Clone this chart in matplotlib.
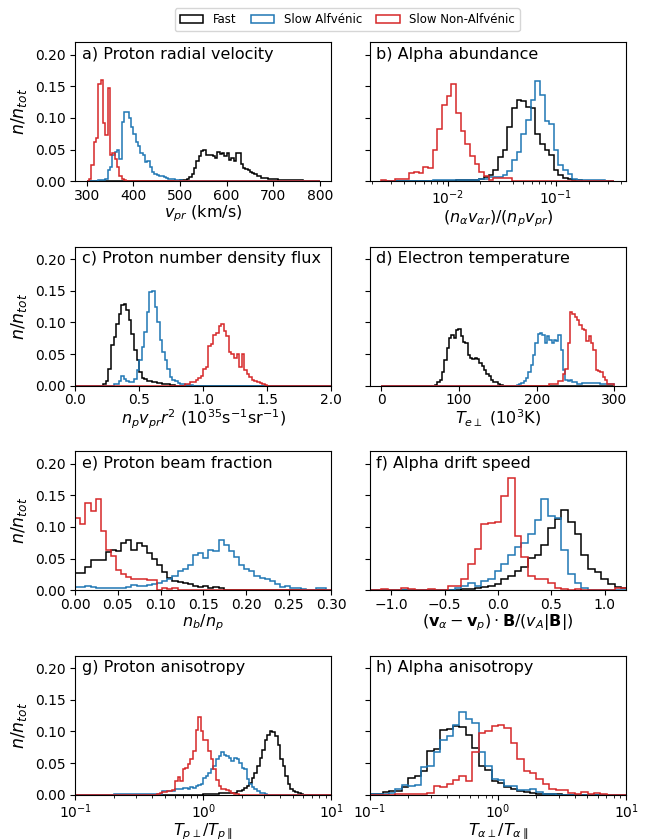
import numpy as np
import matplotlib.pyplot as plt
from matplotlib.patches import Patch

labels = ["Fast", "Slow Alfvénic", "Slow Non-Alfvénic"]
colors = ["black", "tab:blue", "tab:red"]

# a) proton radial velocity, 5 km/s bins from 300 to 800
a_edges = np.linspace(300, 800, 101)
a_fast_i0 = 40
a_fast = [0.001, 0.001, 0.002, 0.003, 0.006, 0.012, 0.020, 0.032, 0.040, 0.048,
          0.049, 0.041, 0.042, 0.041, 0.040, 0.037, 0.046, 0.043, 0.045, 0.040,
          0.044, 0.033, 0.036, 0.032, 0.044, 0.045, 0.027, 0.021, 0.019, 0.017,
          0.015, 0.013, 0.011, 0.0085, 0.0075, 0.0055, 0.005, 0.0045, 0.004, 0.0035,
          0.003, 0.003, 0.0025, 0.0025, 0.002, 0.002, 0.0018, 0.0015, 0.0015, 0.0012,
          0.001, 0.001, 0.001, 0.0008, 0.0008, 0.0007, 0.0006, 0.0005, 0.0005, 0.0004]
a_alf_i0 = 5
a_alf = [0.001, 0.002, 0.002, 0.004, 0.017, 0.022, 0.042, 0.046, 0.050, 0.035,
         0.093, 0.110, 0.110, 0.100, 0.085, 0.075, 0.062, 0.055, 0.045, 0.042,
         0.030, 0.032, 0.022, 0.015, 0.012, 0.010, 0.008, 0.008, 0.007, 0.005,
         0.004, 0.004, 0.003, 0.002, 0.002, 0.001]
a_non_i0 = 1
a_non = [0.004, 0.025, 0.062, 0.068, 0.153, 0.160, 0.092, 0.073, 0.148, 0.041,
         0.045, 0.035, 0.022, 0.008, 0.003, 0.001]

# b) alpha abundance, log bins
b_edges = np.logspace(-2.61, -0.46, 51)
b_fast_i0 = 16
b_fast = [0.001, 0.001, 0.001, 0.002, 0.002, 0.004, 0.006, 0.009, 0.017, 0.038,
          0.050, 0.085, 0.115, 0.129, 0.127, 0.118, 0.116, 0.075, 0.058, 0.050,
          0.041, 0.017, 0.009, 0.005, 0.004, 0.002, 0.001]
b_alf_i0 = 11
b_alf = [0.001, 0.001, 0.001, 0.001, 0.001, 0.001, 0.002, 0.002, 0.002, 0.002,
         0.004, 0.004, 0.007, 0.007, 0.007, 0.009, 0.016, 0.033, 0.046, 0.075,
         0.097, 0.128, 0.158, 0.136, 0.095, 0.090, 0.049, 0.025, 0.018, 0.012,
         0.004, 0.002, 0.002, 0.002, 0.001, 0.001, 0.001]
b_non_i0 = 0
b_non = [0.002, 0.0, 0.0, 0.004, 0.004, 0.004, 0.013, 0.015, 0.013, 0.023,
         0.021, 0.050, 0.082, 0.120, 0.135, 0.153, 0.107, 0.079, 0.058, 0.040,
         0.027, 0.014, 0.008, 0.001, 0.005, 0.005, 0.005, 0.005]

# c) proton number density flux
c_edges = np.linspace(0, 2, 101)
c_fast_i0 = 11
c_fast = [0.002, 0.008, 0.027, 0.064, 0.077, 0.098, 0.114, 0.127, 0.129, 0.120,
          0.103, 0.082, 0.056, 0.040, 0.022, 0.012, 0.010, 0.008, 0.007, 0.006,
          0.005, 0.004, 0.004, 0.003, 0.002, 0.002, 0.001, 0.001]
c_alf_i0 = 15
c_alf = [0.002, 0.003, 0.008, 0.016, 0.010, 0.008, 0.006, 0.006, 0.011, 0.024,
         0.040, 0.061, 0.085, 0.116, 0.148, 0.150, 0.125, 0.100, 0.072, 0.053,
         0.040, 0.027, 0.014, 0.009, 0.007, 0.004, 0.002, 0.002, 0.001, 0.001, 0.001]
c_non_i0 = 43
c_non = [0.002, 0.003, 0.006, 0.006, 0.009, 0.012, 0.016, 0.027, 0.030, 0.062,
         0.066, 0.080, 0.083, 0.095, 0.098, 0.087, 0.078, 0.053, 0.050, 0.043,
         0.050, 0.030, 0.050, 0.025, 0.019, 0.014, 0.009, 0.008, 0.006, 0.004,
         0.002, 0.001]

# d) electron temperature, 3e3 K bins
d_edges = np.linspace(0, 300, 101)
d_fast_i0 = 23
d_fast = [0.001, 0.006, 0.009, 0.022, 0.040, 0.059, 0.076, 0.080, 0.076, 0.088,
          0.090, 0.079, 0.069, 0.067, 0.048, 0.043, 0.042, 0.043, 0.042, 0.035,
          0.031, 0.024, 0.019, 0.015, 0.009, 0.006, 0.005, 0.003, 0.001]
d_alf_i0 = 58
d_alf = [0.001, 0.002, 0.004, 0.007, 0.012, 0.021, 0.033, 0.048, 0.067, 0.082,
         0.084, 0.080, 0.067, 0.078, 0.072, 0.068, 0.072, 0.070, 0.080, 0.056,
         0.024, 0.009, 0.007, 0.009, 0.006, 0.005, 0.003, 0.003, 0.004, 0.004,
         0.004, 0.004, 0.004, 0.004, 0.004, 0.004, 0.002, 0.002, 0.002, 0.002,
         0.002, 0.002]
d_non_i0 = 72
d_non = [0.002, 0.002, 0.003, 0.003, 0.008, 0.007, 0.018, 0.026, 0.068, 0.116,
         0.114, 0.108, 0.104, 0.096, 0.089, 0.088, 0.070, 0.078, 0.067, 0.056,
         0.025, 0.023, 0.021, 0.014, 0.009, 0.003, 0.002, 0.002]

# e) proton beam fraction
e_edges = np.linspace(0, 0.3, 51)
e_fast_i0 = 0
e_fast = [0.027, 0.027, 0.037, 0.047, 0.048, 0.047, 0.060, 0.064, 0.062, 0.075,
          0.080, 0.063, 0.075, 0.070, 0.058, 0.049, 0.040, 0.028, 0.019, 0.015,
          0.013, 0.011, 0.009, 0.007, 0.005, 0.006, 0.004, 0.005, 0.003, 0.001]
e_alf_i0 = 0
e_alf = [0.005, 0.005, 0.007, 0.005, 0.004, 0.003, 0.003, 0.004, 0.004, 0.004,
         0.005, 0.008, 0.007, 0.006, 0.008, 0.010, 0.011, 0.014, 0.018, 0.022,
         0.030, 0.034, 0.039, 0.056, 0.058, 0.051, 0.063, 0.062, 0.079, 0.072,
         0.062, 0.053, 0.039, 0.034, 0.030, 0.022, 0.019, 0.017, 0.014, 0.009,
         0.005, 0.007, 0.004, 0.004, 0.002, 0.001, 0.001, 0.003, 0.003, 0.001]
e_non_i0 = 0
e_non = [0.114, 0.104, 0.137, 0.125, 0.144, 0.093, 0.064, 0.054, 0.032, 0.025,
         0.021, 0.018, 0.017, 0.017, 0.016, 0.016, 0.001, 0.004, 0.002, 0.004,
         0.001, 0.001]

# f) alpha drift speed
f_edges = np.linspace(-1.21875, 1.21875, 40)
f_fast_i0 = 13
f_fast = [0.001, 0.002, 0.002, 0.004, 0.005, 0.007, 0.009, 0.017, 0.023, 0.030,
          0.037, 0.051, 0.056, 0.071, 0.098, 0.113, 0.126, 0.107, 0.089, 0.055,
          0.034, 0.028, 0.018, 0.009, 0.005, 0.004]
f_alf_i0 = 11
f_alf = [0.001, 0.001, 0.003, 0.006, 0.012, 0.007, 0.015, 0.017, 0.030, 0.042,
         0.056, 0.068, 0.074, 0.088, 0.111, 0.144, 0.118, 0.114, 0.064, 0.026,
         0.012, 0.003, 0.001]
f_non_i0 = 0
f_non = [0.0, 0.0, 0.002, 0.001, 0.0, 0.004, 0.002, 0.0, 0.0, 0.002,
         0.001, 0.001, 0.007, 0.007, 0.017, 0.042, 0.065, 0.104, 0.106, 0.107,
         0.149, 0.177, 0.085, 0.053, 0.023, 0.017, 0.018, 0.012, 0.004, 0.002,
         0.001, 0.002, 0.001, 0.0, 0.001, 0.001, 0.001, 0.003, 0.003]

# g) proton anisotropy, log bins 0.1..10
g_edges = np.logspace(-1, 1, 101)
g_fast_i0 = 50
g_fast = [0.001, 0.001, 0.001, 0.001, 0.0015, 0.0015, 0.002, 0.002, 0.002, 0.002,
          0.002, 0.003, 0.003, 0.005, 0.006, 0.008, 0.011, 0.013, 0.019, 0.026,
          0.035, 0.046, 0.058, 0.071, 0.087, 0.095, 0.101, 0.099, 0.093, 0.079,
          0.056, 0.045, 0.030, 0.017, 0.009, 0.006, 0.004, 0.002, 0.001]
g_alf_i0 = 15
g_alf = [0.001, 0.001, 0.001, 0.001, 0.001, 0.001, 0.001, 0.001, 0.001, 0.001,
         0.001, 0.001, 0.001, 0.001, 0.001, 0.0015, 0.0015, 0.0015, 0.0015, 0.005,
         0.006, 0.006, 0.006, 0.006, 0.009, 0.009, 0.009, 0.011, 0.011, 0.009,
         0.012, 0.011, 0.013, 0.016, 0.017, 0.026, 0.030, 0.035, 0.040, 0.045,
         0.056, 0.061, 0.067, 0.063, 0.061, 0.058, 0.053, 0.058, 0.056, 0.050,
         0.042, 0.040, 0.024, 0.017, 0.012, 0.009, 0.005, 0.003, 0.002, 0.001]
g_non_i0 = 32
g_non = [0.001, 0.002, 0.004, 0.004, 0.005, 0.006, 0.008, 0.021, 0.028, 0.021,
         0.040, 0.042, 0.049, 0.056, 0.069, 0.103, 0.123, 0.101, 0.087, 0.087,
         0.069, 0.056, 0.040, 0.023, 0.013, 0.009, 0.009, 0.008, 0.005, 0.003,
         0.001, 0.001]

# h) alpha anisotropy, log bins 0.1..10
h_edges = np.logspace(-1, 1, 41)
h_fast_i0 = 0
h_fast = [0.0005, 0.0015, 0.004, 0.005, 0.006, 0.012, 0.026, 0.030, 0.038, 0.069,
          0.072, 0.102, 0.104, 0.109, 0.107, 0.095, 0.074, 0.046, 0.039, 0.021,
          0.018, 0.012, 0.009, 0.006, 0.004, 0.003, 0.0015, 0.001, 0.0005, 0.0005]
h_alf_i0 = 0
h_alf = [0.0005, 0.001, 0.0015, 0.003, 0.009, 0.016, 0.014, 0.016, 0.044, 0.045,
         0.068, 0.087, 0.092, 0.110, 0.130, 0.119, 0.114, 0.068, 0.046, 0.025,
         0.023, 0.014, 0.013, 0.008, 0.007, 0.009, 0.004, 0.0015, 0.0008]
h_non_i0 = 0
h_non = [0.0, 0.0, 0.0, 0.0, 0.001, 0.0015, 0.001, 0.001, 0.001, 0.002,
         0.013, 0.012, 0.017, 0.023, 0.029, 0.021, 0.068, 0.097, 0.100, 0.108,
         0.110, 0.105, 0.082, 0.056, 0.038, 0.034, 0.025, 0.017, 0.009, 0.008,
         0.007, 0.003, 0.001, 0.004, 0.001, 0.002, 0.001, 0.0, 0.0, 0.0]


def full(edges, i0, vals):
    h = np.zeros(len(edges) - 1)
    h[i0:i0 + len(vals)] = vals
    return h


panels = [
    ("a) Proton radial velocity", a_edges,
     [(a_fast_i0, a_fast), (a_alf_i0, a_alf), (a_non_i0, a_non)],
     r"$v_{pr}$ (km/s)", False, (275, 825)),
    ("b) Alpha abundance", b_edges,
     [(b_fast_i0, b_fast), (b_alf_i0, b_alf), (b_non_i0, b_non)],
     r"$(n_\alpha v_{\alpha r})/(n_p v_{pr})$", True, (10**-2.7175, 10**-0.3525)),
    ("c) Proton number density flux", c_edges,
     [(c_fast_i0, c_fast), (c_alf_i0, c_alf), (c_non_i0, c_non)],
     r"$n_p v_{pr} r^2$ ($10^{35}$s$^{-1}$sr$^{-1}$)", False, (0, 2)),
    ("d) Electron temperature", d_edges,
     [(d_fast_i0, d_fast), (d_alf_i0, d_alf), (d_non_i0, d_non)],
     r"$T_{e\perp}$ ($10^3$K)", False, (-15, 315)),
    ("e) Proton beam fraction", e_edges,
     [(e_fast_i0, e_fast), (e_alf_i0, e_alf), (e_non_i0, e_non)],
     r"$n_b/n_p$", False, (0, 0.3)),
    ("f) Alpha drift speed", f_edges,
     [(f_fast_i0, f_fast), (f_alf_i0, f_alf), (f_non_i0, f_non)],
     r"$(\mathbf{v}_\alpha - \mathbf{v}_p) \cdot \mathbf{B}/(v_A|\mathbf{B}|)$", False, (-1.2, 1.2)),
    ("g) Proton anisotropy", g_edges,
     [(g_fast_i0, g_fast), (g_alf_i0, g_alf), (g_non_i0, g_non)],
     r"$T_{p\perp}/T_{p\parallel}$", True, (0.1, 10)),
    ("h) Alpha anisotropy", h_edges,
     [(h_fast_i0, h_fast), (h_alf_i0, h_alf), (h_non_i0, h_non)],
     r"$T_{\alpha\perp}/T_{\alpha\parallel}$", True, (0.1, 10)),
]

fig, axes = plt.subplots(4, 2, figsize=(6.59, 8.4), dpi=100)
fig.subplots_adjust(left=0.114, right=0.95, top=0.95, bottom=0.054,
                    wspace=0.15, hspace=0.47)

for ax, (title, edges, series, xlabel, logx, xlim) in zip(axes.flat, panels):
    for (i0, vals), c in zip(series, colors):
        ax.stairs(full(edges, i0, vals), edges, color=c, lw=1.1)
    if logx:
        ax.set_xscale("log")
    ax.set_xlim(*xlim)
    ax.set_ylim(0, 0.22)
    ax.set_yticks([0, 0.05, 0.10, 0.15, 0.20])
    ax.text(0.025, 0.965, title, transform=ax.transAxes, ha="left", va="top",
            fontsize=11.5)
    ax.set_xlabel(xlabel, fontsize=11.5, labelpad=0.5)
    ax.tick_params(labelsize=10)
    ax.tick_params(axis="x", which="both", pad=2)

for ax in axes[:, 0]:
    ax.set_ylabel(r"$n/n_{tot}$", fontsize=12.5)
for ax in axes[:, 1]:
    ax.tick_params(labelleft=False)

handles = [Patch(facecolor="none", edgecolor=c, lw=1.1) for c in colors]
fig.legend(handles, labels, loc="upper center", bbox_to_anchor=(0.527, 0.997),
           ncol=3, fontsize=8.5, handlelength=2.0, columnspacing=1.2)

fig.savefig("out.png", dpi=100)
